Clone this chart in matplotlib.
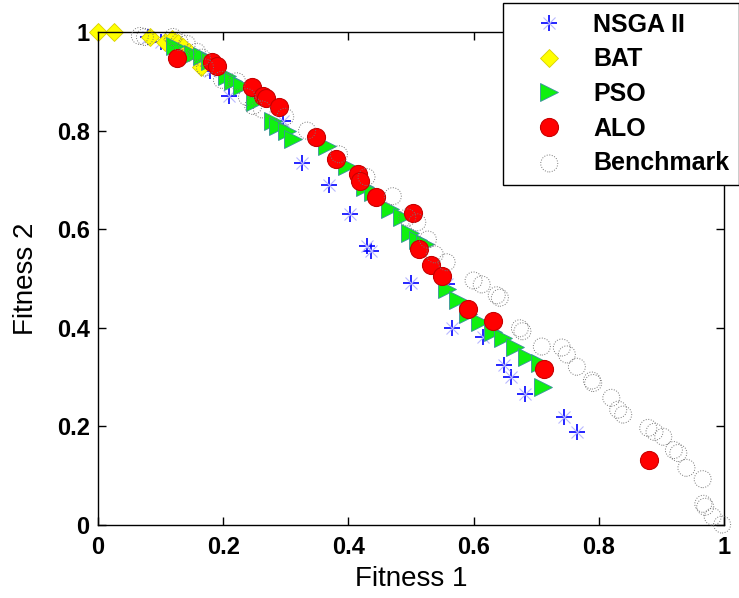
import matplotlib
matplotlib.use("Agg")
import matplotlib.pyplot as plt
from matplotlib.legend_handler import HandlerTuple

plt.rcParams["font.family"] = ["Liberation Sans", "DejaVu Sans"]

# NSGA II
nsga_x = [0.080, 0.100, 0.179, 0.209, 0.296, 0.326, 0.369, 0.403, 0.430, 0.436,
          0.500, 0.557, 0.565, 0.615, 0.649, 0.660, 0.682, 0.744, 0.765]
nsga_y = [0.990, 0.980, 0.920, 0.870, 0.820, 0.734, 0.689, 0.630, 0.565, 0.555,
          0.490, 0.488, 0.400, 0.382, 0.325, 0.300, 0.266, 0.220, 0.189]

# BAT
bat_x = [0.000, 0.025, 0.083, 0.107, 0.118, 0.127, 0.136, 0.145, 0.165]
bat_y = [1.000, 1.000, 0.990, 0.980, 0.985, 0.978, 0.970, 0.960, 0.930]

# PSO
pso_x = [0.123, 0.152, 0.166, 0.179, 0.206, 0.216, 0.230, 0.251, 0.280, 0.288,
         0.302, 0.311, 0.366, 0.398, 0.427, 0.439, 0.466, 0.486, 0.498, 0.511,
         0.522, 0.557, 0.575, 0.591, 0.610, 0.631, 0.647, 0.666, 0.685, 0.706, 0.711]
pso_y = [0.972, 0.955, 0.951, 0.941, 0.911, 0.900, 0.890, 0.858, 0.819, 0.809,
         0.799, 0.783, 0.768, 0.728, 0.685, 0.675, 0.640, 0.624, 0.593, 0.579,
         0.569, 0.478, 0.457, 0.427, 0.411, 0.392, 0.380, 0.362, 0.341, 0.329, 0.280]

# ALO
alo_x = [0.126, 0.182, 0.190, 0.246, 0.264, 0.268, 0.289, 0.348, 0.380, 0.415,
         0.419, 0.444, 0.503, 0.513, 0.532, 0.550, 0.591, 0.631, 0.712, 0.880]
alo_y = [0.947, 0.939, 0.931, 0.888, 0.870, 0.866, 0.848, 0.787, 0.742, 0.711,
         0.697, 0.665, 0.632, 0.559, 0.528, 0.506, 0.439, 0.413, 0.317, 0.132]

# Benchmark
bench_x = [0.067, 0.075, 0.120, 0.130, 0.142, 0.158, 0.166, 0.171, 0.198, 0.222,
           0.238, 0.248, 0.262, 0.299, 0.334, 0.385, 0.429, 0.471, 0.494, 0.510,
           0.527, 0.538, 0.557, 0.600, 0.613, 0.637, 0.642, 0.674, 0.678, 0.709,
           0.741, 0.749, 0.765, 0.789, 0.791, 0.820, 0.831, 0.839, 0.879, 0.889,
           0.903, 0.920, 0.927, 0.940, 0.966, 0.967, 0.970, 0.982, 0.997]
bench_y = [0.992, 0.990, 0.990, 0.980, 0.976, 0.960, 0.948, 0.928, 0.903, 0.900,
           0.868, 0.850, 0.843, 0.828, 0.800, 0.752, 0.706, 0.667, 0.624, 0.614,
           0.579, 0.549, 0.533, 0.496, 0.488, 0.466, 0.461, 0.399, 0.393, 0.362,
           0.360, 0.346, 0.321, 0.293, 0.288, 0.258, 0.234, 0.224, 0.197, 0.189,
           0.179, 0.152, 0.146, 0.116, 0.093, 0.043, 0.037, 0.017, 0.001]

ticks = [0, 0.2, 0.4, 0.6, 0.8, 1]
tick_labels = ["0", "0.2", "0.4", "0.6", "0.8", "1"]

fig = plt.figure(figsize=(7.39, 5.98), dpi=100)
ax = fig.add_axes([98 / 739, 1 - 525 / 598, 626 / 739, 493 / 598])

h_plus, = ax.plot(nsga_x, nsga_y, linestyle="none", marker="+", markersize=12,
                  markeredgewidth=1.2, color="#0000ff", clip_on=False)
h_x, = ax.plot(nsga_x, nsga_y, linestyle="none", marker="x", markersize=8,
               markeredgewidth=0.8, color="#b8b8ff", clip_on=False)
h_bat, = ax.plot(bat_x, bat_y, linestyle="none", marker="D", markersize=9,
                 markerfacecolor="#ffff00", markeredgecolor="#d8d000",
                 markeredgewidth=0.6, clip_on=False)
h_pso, = ax.plot(pso_x, pso_y, linestyle="none", marker=">", markersize=12.5,
                 markerfacecolor="#10f010", markeredgecolor="#3a8fa0",
                 markeredgewidth=0.6, clip_on=False)
h_alo, = ax.plot(alo_x, alo_y, linestyle="none", marker="o", markersize=13,
                 markerfacecolor="#ff0000", markeredgecolor="#c80000",
                 markeredgewidth=0.8, clip_on=False)
h_bench = ax.scatter(bench_x, bench_y, s=150, facecolors="none", edgecolors="#777777",
                     linewidths=0.7, linestyles=":", clip_on=False, zorder=3)

ax.set_xlim(0, 1)
ax.set_ylim(0, 1)
ax.set_xticks(ticks)
ax.set_xticklabels(tick_labels)
ax.set_yticks(ticks)
ax.set_yticklabels(tick_labels)
ax.tick_params(direction="in", length=6, width=1, top=True, right=True,
               labelsize=17)
ax.tick_params(axis="x", pad=8)
ax.tick_params(axis="y", pad=6)
for lab in ax.get_xticklabels() + ax.get_yticklabels():
    lab.set_fontweight("bold")
for sp in ax.spines.values():
    sp.set_linewidth(1.0)

ax.set_xlabel("Fitness 1", fontsize=20, labelpad=5)
ax.set_ylabel("Fitness 2", fontsize=20, labelpad=13)

leg = fig.legend([(h_plus, h_x), h_bat, h_pso, h_alo, h_bench],
                 ["NSGA II", "BAT", "PSO", "ALO", "Benchmark"],
                 handler_map={tuple: HandlerTuple(ndivide=1)},
                 loc="upper left", bbox_to_anchor=(503 / 739, 1 - 3 / 598),
                 borderaxespad=0, prop={"weight": "bold", "size": 18},
                 fancybox=False, framealpha=1, edgecolor="black",
                 borderpad=0.4, handlelength=2.9, handletextpad=0.3,
                 labelspacing=0.42, scatterpoints=1)
leg.get_frame().set_linewidth(1.0)

fig.savefig("out.png", dpi=100)
